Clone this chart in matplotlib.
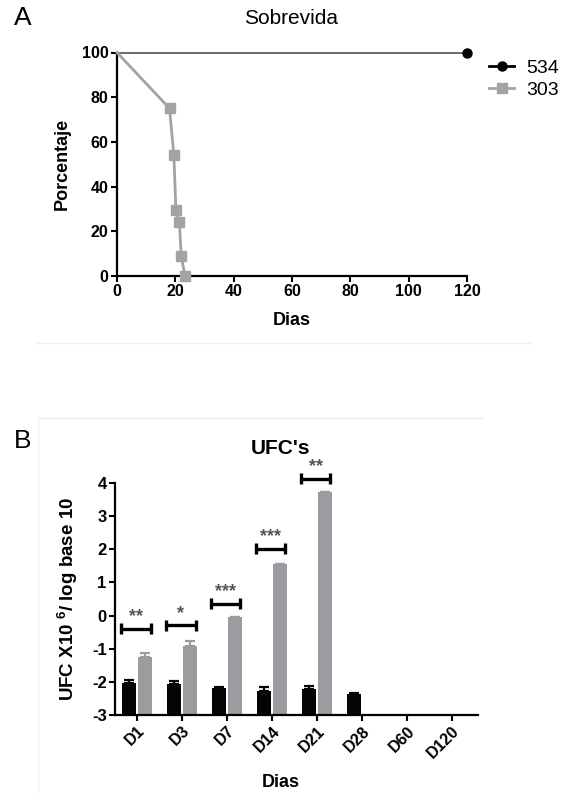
import numpy as np
import matplotlib
matplotlib.use('Agg')
import matplotlib.pyplot as plt
from matplotlib.lines import Line2D

plt.rcParams['font.family'] = ['Liberation Sans', 'DejaVu Sans']
plt.rcParams['mathtext.fontset'] = 'custom'
plt.rcParams['mathtext.rm'] = 'Liberation Sans'
plt.rcParams['mathtext.bf'] = 'Liberation Sans:bold'
plt.rcParams['axes.unicode_minus'] = False

# ----------------- datos A: sobrevida -----------------
dias_534 = [0, 120]
sobrevida_534 = [100, 100]
dias_303 = [0, 18, 19.5, 20.2, 21.4, 22, 23.3]
sobrevida_303 = [100, 75, 54, 29.5, 24, 9, 0]

# ----------------- datos B: UFC's -----------------
grupos = ['D1', 'D3', 'D7', 'D14', 'D21', 'D28', 'D60', 'D120']
ufc_534 = [-2.03, -2.07, -2.18, -2.28, -2.23, -2.37, np.nan, np.nan]
err_534 = [0.08, 0.09, 0.02, 0.13, 0.10, 0.04, 0, 0]
ufc_303 = [-1.25, -0.92, -0.04, 1.57, 3.72, np.nan, np.nan, np.nan]
err_303 = [0.13, 0.14, 0.0, 0.0, 0.0, 0, 0, 0]
signif = ['**', '*', '***', '***', '**']
altura_signif = [-0.40, -0.29, 0.36, 2.02, 4.13]

W, H = 561, 794
fig = plt.figure(figsize=(W / 100, H / 100), dpi=100)


def box(l, t, r, b):
    # pixeles -> fraccion de figura
    return [l / W, 1 - b / H, (r - l) / W, (b - t) / H]


def estilo(ax, size):
    for s in ['top', 'right']:
        ax.spines[s].set_visible(False)
    for s in ['left', 'bottom']:
        ax.spines[s].set_linewidth(1.6)
    ax.tick_params(direction='out', length=4, width=1.5, labelsize=size, pad=2)
    plt.setp(ax.get_xticklabels() + ax.get_yticklabels(), fontweight='bold')


# marcos tenues de la imagen original
fig.add_artist(Line2D([37 / W, 530 / W], [1 - 343 / H] * 2, color='#efefef', lw=1))
fig.add_artist(Line2D([38 / W, 482 / W], [1 - 418 / H] * 2, color='#efefef', lw=1))
fig.add_artist(Line2D([38 / W, 38 / W], [1 - 418 / H, 0], color='#f3f3f3', lw=1))

# ----------------- panel A -----------------
ax1 = fig.add_axes(box(117, 52.5, 467, 276))
ax1.plot(dias_534, sobrevida_534, color='#505050', lw=1.2, marker='o', ms=6.5,
         mfc='k', mec='k', markevery=[len(dias_534) - 1], clip_on=False, zorder=3)
ax1.plot(dias_303, sobrevida_303, color='#a3a3a3', lw=2, marker='s', ms=6.5,
         markevery=list(range(1, len(dias_303))), clip_on=False, zorder=4)
ax1.set_xlim(0, 120)
ax1.set_ylim(0, 100)
ax1.set_xticks(range(0, 121, 20))
ax1.set_yticks(range(0, 101, 20))
estilo(ax1, 11.5)
ax1.set_xlabel('Dias', fontsize=13, fontweight='bold')
ax1.xaxis.set_label_coords(0.5, (276 - 312) / 223.5)
ax1.set_ylabel('Porcentaje', fontsize=13, fontweight='bold')
ax1.yaxis.set_label_coords((71 - 117) / 350, 0.5)

handles = [Line2D([], [], color='k', lw=2, marker='o', ms=6.5),
           Line2D([], [], color='#a3a3a3', lw=2, marker='s', ms=6.5)]
fig.legend(handles, ['534', '303'], loc='upper left', bbox_to_anchor=(489 / W, 1 - 59 / H),
           frameon=False, fontsize=14, handlelength=1.3, handletextpad=0.6,
           borderpad=0, borderaxespad=0, labelspacing=0.25)

fig.text(291 / W, 1 - 19 / H, 'Sobrevida', ha='center', va='center', fontsize=15)
fig.text(23 / W, 1 - 18 / H, 'A', ha='center', va='center', fontsize=19)

# ----------------- panel B -----------------
ax2 = fig.add_axes(box(115, 483, 478, 715))
x = np.arange(len(grupos))
v534 = np.array(ufc_534)
v303 = np.array(ufc_303)
m1 = ~np.isnan(v534)
m2 = ~np.isnan(v303)
e534 = np.array(err_534)
e303 = np.array(err_303)
ax2.bar(x[m1] - 0.18, v534[m1] + 3, bottom=-3, width=0.31, color='#050505',
        yerr=[np.zeros(m1.sum()), e534[m1]],
        error_kw=dict(ecolor='#050505', capsize=3.5, elinewidth=1.6, capthick=1.6))
ax2.bar(x[m2] + 0.18, v303[m2] + 3, bottom=-3, width=0.31, color='#9c9ca0',
        yerr=[np.zeros(m2.sum()), e303[m2]],
        error_kw=dict(ecolor='#9c9ca0', capsize=3.5, elinewidth=1.6, capthick=1.6))

for i, (s, yb) in enumerate(zip(signif, altura_signif)):
    x0, x1 = i - 0.36, i + 0.30
    ax2.plot([x0, x1], [yb, yb], color='k', lw=2.4, clip_on=False, solid_capstyle='butt')
    for xe in (x0, x1):
        ax2.plot([xe, xe], [yb - 0.17, yb + 0.17], color='k', lw=2.4, clip_on=False,
                 solid_capstyle='butt')
    ax2.text((x0 + x1) / 2, yb + 0.1, s, ha='center', va='bottom', fontsize=13,
             color='#555555', fontweight='bold', clip_on=False)

ax2.set_xlim(-0.49, 7.58)
ax2.set_ylim(-3, 4)
ax2.set_yticks(range(-3, 5))
ax2.set_xticks(x)
ax2.set_xticklabels(grupos, rotation=45, ha='right', rotation_mode='anchor')
estilo(ax2, 12)
plt.setp(ax2.get_xticklabels(), fontsize=11.5)
ax2.set_xlabel('Dias', fontsize=13, fontweight='bold')
ax2.xaxis.set_label_coords((281 - 115) / 363, (715 - 774) / 232)
ax2.set_ylabel(r'UFC X10 $^{\mathbf{6}}$/ log base 10', fontsize=13.5, fontweight='bold')
ax2.yaxis.set_label_coords((80 - 115) / 363, 0.5)

fig.text(280 / W, 1 - 448 / H, "UFC's", ha='center', va='center', fontsize=15,
         fontweight='bold')
fig.text(23 / W, 1 - 441 / H, 'B', ha='center', va='center', fontsize=19)

fig.savefig('out.png', dpi=100)
